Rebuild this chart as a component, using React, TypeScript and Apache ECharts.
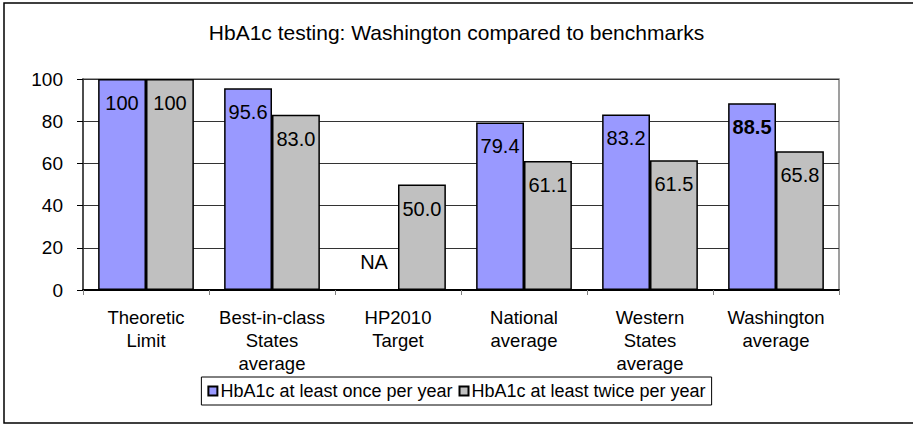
import React, { useEffect, useRef } from "react";
import * as echarts from "echarts";

const categories = [
  "Theoretic\nLimit",
  "Best-in-class\nStates\naverage",
  "HP2010\nTarget",
  "National\naverage",
  "Western\nStates\naverage",
  "Washington\naverage",
];
const onceValues = [100, 95.6, 0, 79.4, 83.2, 88.5];
const onceLabels = ["100", "95.6", "NA", "79.4", "83.2", "88.5"];
const twiceValues = [100, 83.0, 50.0, 61.1, 61.5, 65.8];
const twiceLabels = ["100", "83.0", "50.0", "61.1", "61.5", "65.8"];
const seriesNames = ["HbA1c at least once per year", "HbA1c at least twice per year"];
const titleText = "HbA1c testing: Washington compared to benchmarks";
const FONT = "Arial, 'Liberation Sans', sans-serif";

export default function App() {
  const ref = useRef<HTMLDivElement>(null);
  useEffect(() => {
    if (!ref.current) return;
    const chart = echarts.init(ref.current, undefined, { renderer: "svg" });
    const labelBase = {
      show: true,
      position: "insideTop",
      distance: 14,
      fontSize: 20,
      fontFamily: FONT,
      color: "#000",
    };
    const onceData = onceValues.map((v, i) => {
      if (onceLabels[i] === "NA") {
        return {
          value: v,
          label: { ...labelBase, position: "top", distance: 17, formatter: "NA" },
        };
      }
      if (i === 5) {
        return { value: v, label: { ...labelBase, fontWeight: "bold", formatter: onceLabels[i] } };
      }
      return { value: v, label: { ...labelBase, formatter: onceLabels[i] } };
    });
    const twiceData = twiceValues.map((v, i) => ({
      value: v,
      label: { ...labelBase, formatter: twiceLabels[i] },
    }));
    chart.setOption({
      animation: false,
      backgroundColor: "#fff",
      textStyle: { fontFamily: FONT },
      title: {
        text: titleText,
        left: "center",
        top: 17,
        textStyle: { fontSize: 21, fontWeight: "normal", color: "#000", fontFamily: FONT },
      },
      graphic: [
        {
          type: "rect",
          shape: { x: 4, y: 3, width: 1000, height: 420 },
          style: { fill: "none", stroke: "#000", lineWidth: 1.5 },
          silent: true,
        },
      ],
      legend: {
        left: "center",
        top: 377,
        orient: "horizontal",
        data: seriesNames,
        borderColor: "#000",
        borderWidth: 1,
        padding: [5, 6, 5, 6],
        itemWidth: 9,
        itemHeight: 9,
        itemGap: 6,
        icon: "rect",
        textStyle: { fontSize: 18, color: "#000", fontFamily: FONT, padding: [0, 0, 0, -2] },
      },
      grid: {
        left: 83,
        right: 74,
        top: 79,
        bottom: 134,
        show: true,
        borderColor: "#808080",
        borderWidth: 1.5,
        backgroundColor: "transparent",
      },
      xAxis: {
        type: "category",
        data: categories,
        axisLine: { show: true, lineStyle: { color: "#000", width: 2 } },
        axisTick: { show: true, length: 5, lineStyle: { color: "#808080", width: 1 } },
        axisLabel: {
          fontSize: 18.5,
          color: "#000",
          fontFamily: FONT,
          lineHeight: 23,
          margin: 16,
          interval: 0,
          align: "center",
        },
      },
      yAxis: {
        type: "value",
        min: 0,
        max: 100,
        interval: 20,
        axisLine: { show: true, lineStyle: { color: "#333", width: 1.5 } },
        axisTick: { show: true, length: 6, lineStyle: { color: "#000" } },
        axisLabel: { fontSize: 19, color: "#000", fontFamily: FONT, margin: 20 },
        splitLine: { show: true, lineStyle: { color: "#333", width: 1 } },
      },
      series: [
        {
          name: seriesNames[0],
          type: "bar",
          data: onceData,
          barGap: "0%",
          barCategoryGap: "24%",
          itemStyle: { color: "#9999ff", borderColor: "#000", borderWidth: 1.5 },
        },
        {
          name: seriesNames[1],
          type: "bar",
          data: twiceData,
          barGap: "0%",
          barCategoryGap: "24%",
          itemStyle: { color: "#c0c0c0", borderColor: "#000", borderWidth: 1.5 },
        },
      ],
    });
    return () => chart.dispose();
  }, []);
  return (
    <div
      ref={ref}
      style={{ position: "fixed", left: 0, top: 0, width: 913, height: 424 }}
    />
  );
}
